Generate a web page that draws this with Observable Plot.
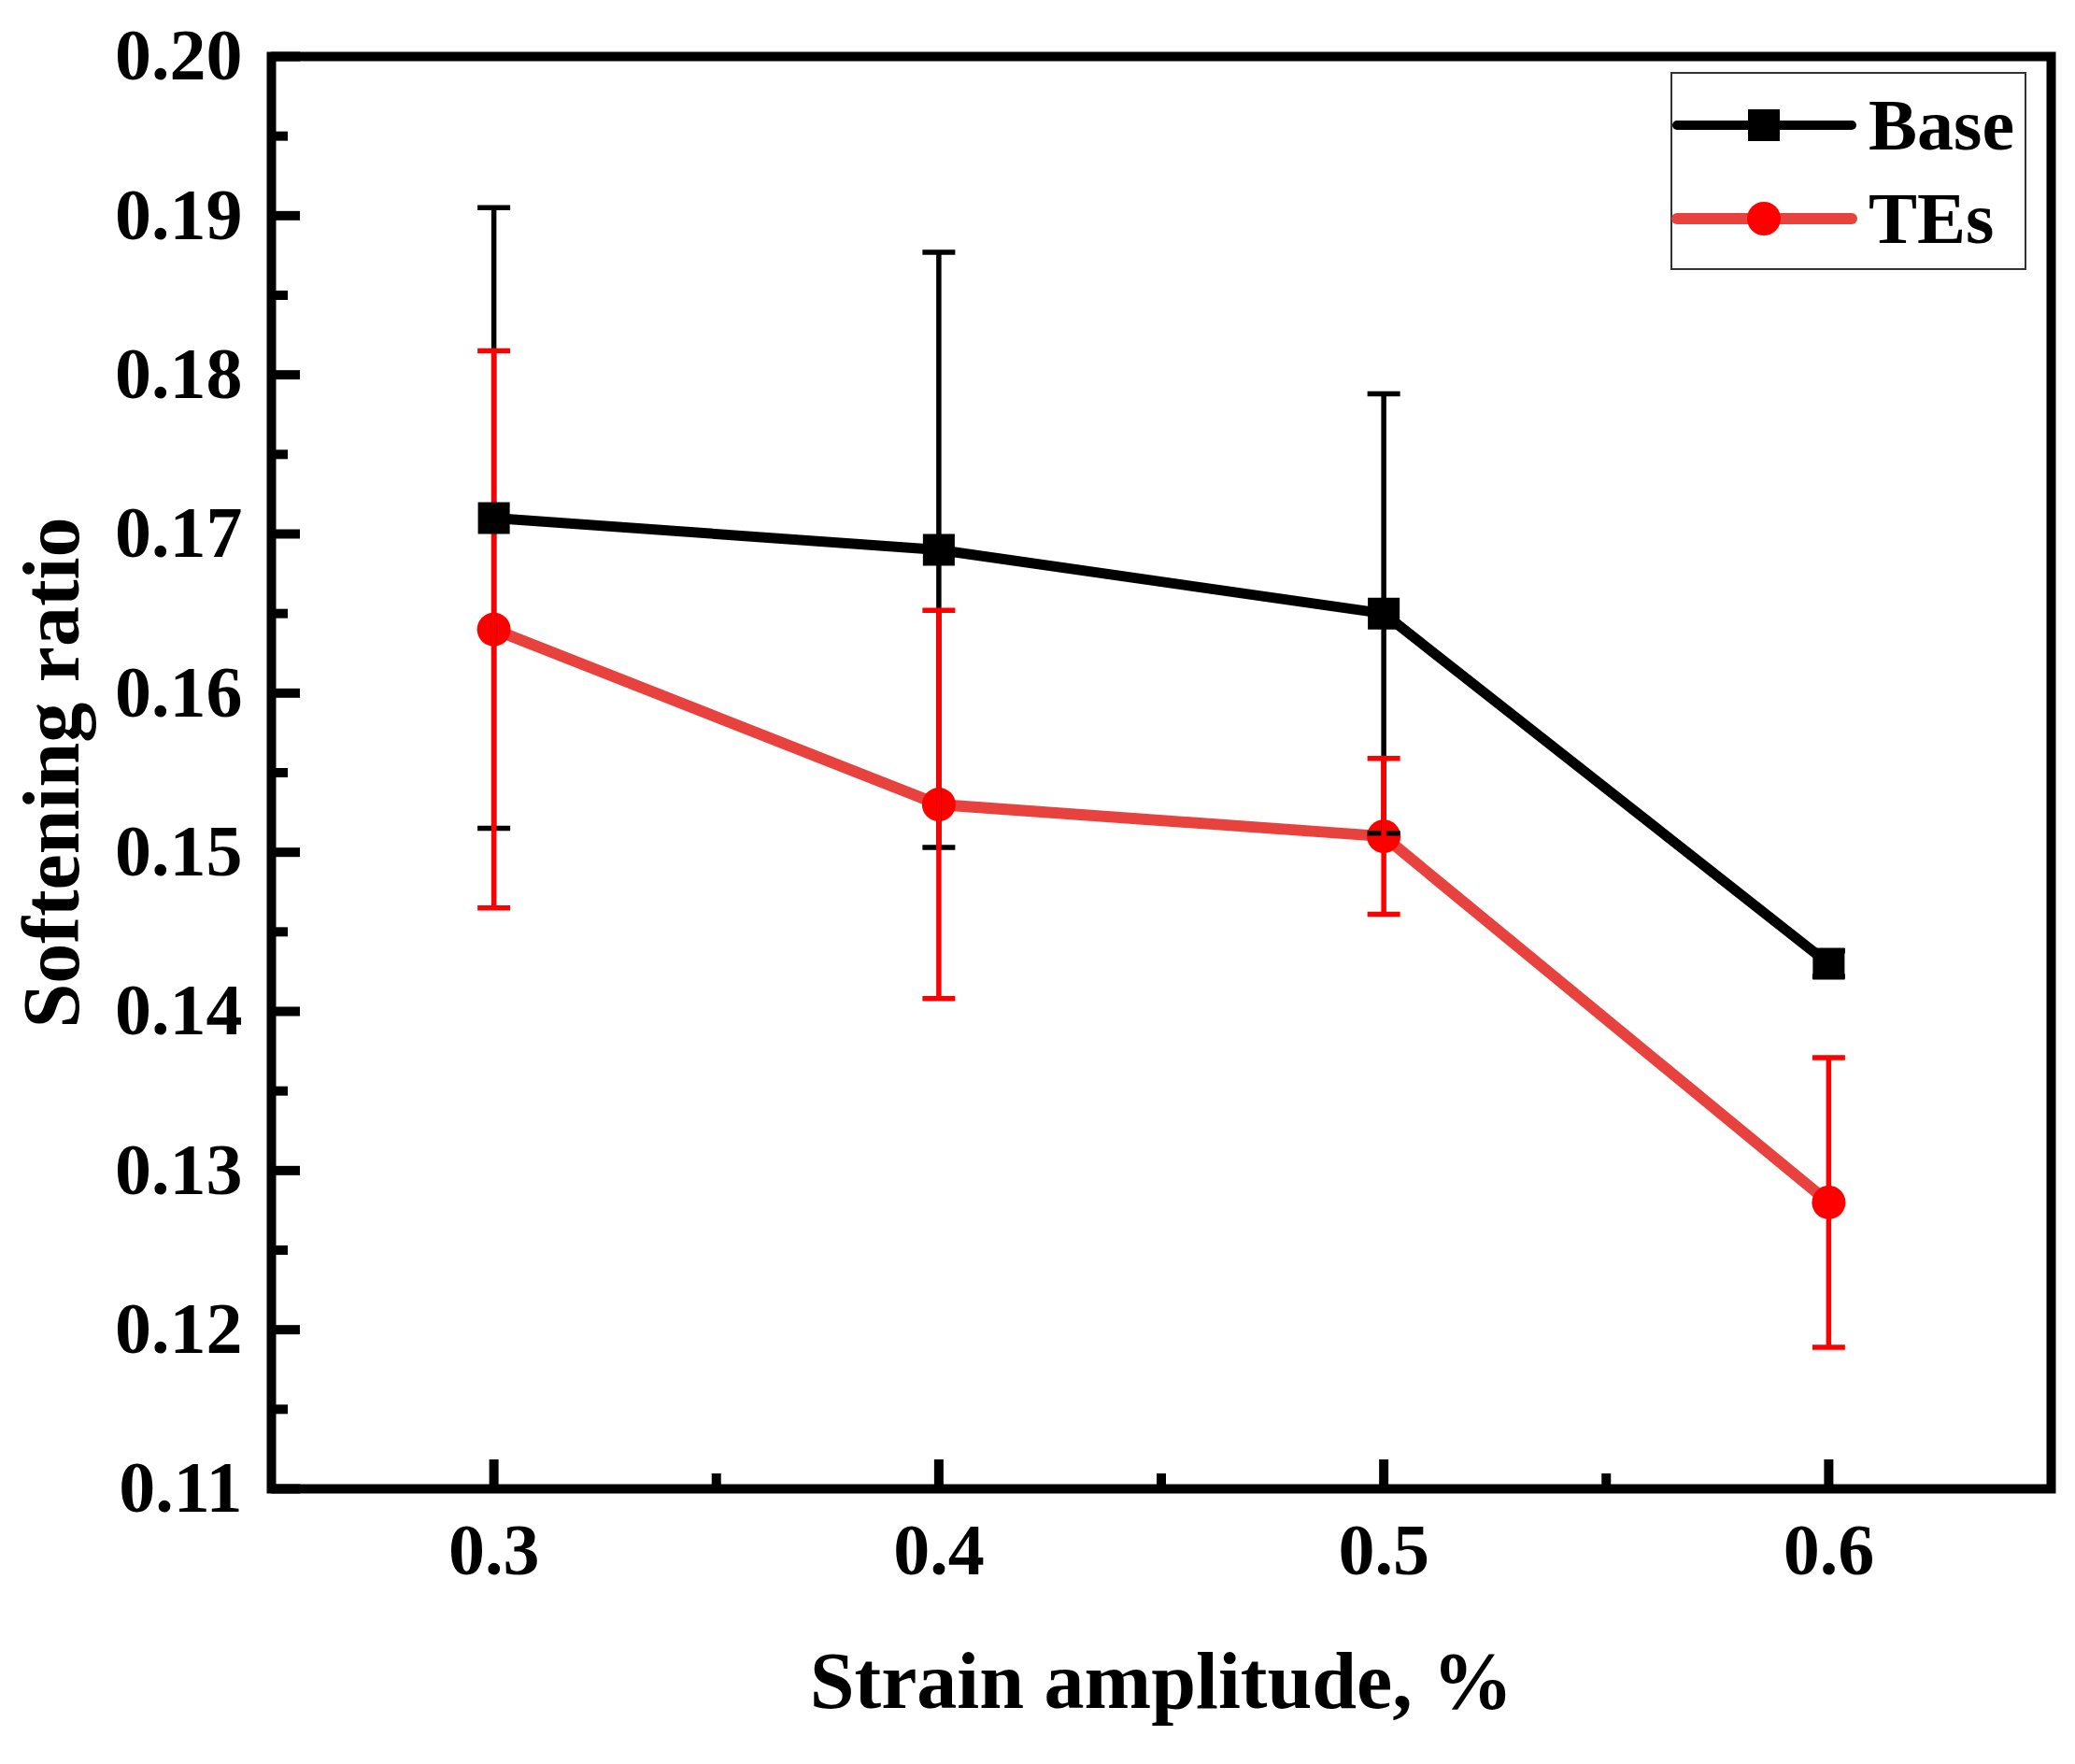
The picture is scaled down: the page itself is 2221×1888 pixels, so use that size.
<!DOCTYPE html>
<html>
<head>
<meta charset="utf-8">
<script src="https://cdn.jsdelivr.net/npm/d3@7"></script>
<script src="https://cdn.jsdelivr.net/npm/@observablehq/plot@0.6"></script>
<style>
  html, body { margin: 0; padding: 0; background: #fff; }
  #chart svg { display: block; max-width: none; }
</style>
</head>
<body>
<div id="chart"></div>
<script>
// ---- data ----
const strainAmplitude = [0.3, 0.4, 0.5, 0.6];
const baseValues = [0.171, 0.169, 0.165, 0.143];
const baseErrors = [0.0195, 0.0187, 0.0138, 0.0008];
const tesValues = [0.164, 0.153, 0.151, 0.128];
const tesErrors = [0.0175, 0.0122, 0.0049, 0.0091];

const seriesNames = ["Base", "TEs"];
const xTicks = [0.3, 0.4, 0.5, 0.6];
const xMinorTicks = [0.35, 0.45, 0.55];
const yTicks = [0.11, 0.12, 0.13, 0.14, 0.15, 0.16, 0.17, 0.18, 0.19, 0.20];
const yMinorTicks = [0.115, 0.125, 0.135, 0.145, 0.155, 0.165, 0.175, 0.185, 0.195];
const xTitle = "Strain amplitude, %";
const yTitle = "Softening ratio";

// ---- build tables ----
const base = strainAmplitude.map((x, i) => ({x, y: baseValues[i], lo: baseValues[i] - baseErrors[i], hi: baseValues[i] + baseErrors[i]}));
const tes = strainAmplitude.map((x, i) => ({x, y: tesValues[i], lo: tesValues[i] - tesErrors[i], hi: tesValues[i] + tesErrors[i]}));

// ---- layout / style ----
const W = 2221, H = 1888;
const mL = 290, mR = 26, mT = 60, mB = 295;
const frameW = W - mL - mR, frameH = H - mT - mB;
const FONT = "'Liberation Serif', 'Times New Roman', serif";
const BLACK = "#000000", RED = "#ff0000", RED_LINE = "#e8423f";
const capSymbol = { draw(context) { context.moveTo(-17.5, 0); context.lineTo(17.5, 0); } };

const errMarks = (rows, color) => [
  Plot.ruleX(rows, {x: "x", y1: "lo", y2: "hi", stroke: color, strokeWidth: 5.5}),
  Plot.dot(rows, {x: "x", y: "hi", symbol: capSymbol, stroke: color, strokeWidth: 5.5, fill: "none"}),
  Plot.dot(rows, {x: "x", y: "lo", symbol: capSymbol, stroke: color, strokeWidth: 5.5, fill: "none"})
];

const svg = Plot.plot({
  width: W, height: H,
  marginLeft: mL, marginRight: mR, marginTop: mT, marginBottom: mB,
  style: {fontFamily: FONT, fontWeight: "bold", color: BLACK, background: "#fff", fontSize: "78px"},
  x: {domain: [0.25, 0.65], label: null},
  y: {domain: [0.11, 0.20], label: null},
  marks: [
    // axes labels (ticks drawn inward separately)
    Plot.axisY(yTicks, {anchor: "left", tickSize: 0, tickPadding: 31, tickFormat: d3.format(".2f"), fontSize: 78, fontWeight: "bold", label: null}),
    Plot.axisX(xTicks, {anchor: "bottom", tickSize: 0, tickPadding: 36, tickFormat: d3.format(".1f"), fontSize: 78, fontWeight: "bold", label: null}),
    // inward ticks
    Plot.ruleY(yTicks, {y: d => d, insetRight: frameW - 31, stroke: BLACK, strokeWidth: 10}),
    Plot.ruleY(yMinorTicks, {y: d => d, insetRight: frameW - 18, stroke: BLACK, strokeWidth: 10}),
    Plot.ruleX(xTicks, {x: d => d, insetTop: frameH - 31, stroke: BLACK, strokeWidth: 10}),
    Plot.ruleX(xMinorTicks, {x: d => d, insetTop: frameH - 16, stroke: BLACK, strokeWidth: 10}),
    // TEs line + points
    Plot.line(tes, {x: "x", y: "y", stroke: RED_LINE, strokeWidth: 12}),
    Plot.dot(tes, {x: "x", y: "y", r: 18, fill: RED, stroke: "none"}),
    // Base line
    Plot.line(base, {x: "x", y: "y", stroke: BLACK, strokeWidth: 11}),
    // error bars
    ...errMarks(base, BLACK),
    ...errMarks(tes, RED),
    // Base squares
    Plot.dot(base, {x: "x", y: "y", symbol: "square", r: 19.2, fill: BLACK, stroke: "none"}),
    // axis titles
    Plot.text([xTitle], {text: d => d, frameAnchor: "bottom", dy: 234, lineAnchor: "bottom", textAnchor: "middle", fontSize: 86, fontWeight: "bold", fill: BLACK}),
    Plot.text([yTitle], {text: d => d, frameAnchor: "left", dx: -207, rotate: -90, lineAnchor: "bottom", textAnchor: "middle", fontSize: 86, fontWeight: "bold", fill: BLACK}),
    // frame
    Plot.frame({stroke: BLACK, strokeWidth: 10})
  ]
});

// ---- legend (inside the plot, top right) ----
const lg = d3.select(svg).append("g")
  .attr("font-family", FONT).attr("font-weight", "bold").attr("font-size", 78).attr("text-anchor", "start");
lg.append("rect").attr("x", 1789).attr("y", 78).attr("width", 379).attr("height", 210)
  .attr("fill", "#fff").attr("stroke", "#333").attr("stroke-width", 2);
const legendRows = [
  {name: seriesNames[0], y: 134, line: BLACK, lw: 10, marker: "square"},
  {name: seriesNames[1], y: 234, line: RED_LINE, lw: 12, marker: "circle"}
];
for (const r of legendRows) {
  lg.append("line").attr("x1", 1795).attr("x2", 1982).attr("y1", r.y).attr("y2", r.y)
    .attr("stroke", r.line).attr("stroke-width", r.lw).attr("stroke-linecap", "round");
  if (r.marker === "square") {
    lg.append("rect").attr("x", 1888 - 17).attr("y", r.y - 17).attr("width", 34).attr("height", 34).attr("fill", BLACK);
  } else {
    lg.append("circle").attr("cx", 1888).attr("cy", r.y).attr("r", 18).attr("fill", RED);
  }
  lg.append("text").attr("x", 2000).attr("y", r.y + 26).attr("text-anchor", "start").attr("fill", BLACK).text(r.name);
}

document.getElementById("chart").appendChild(svg);
</script>
</body>
</html>
